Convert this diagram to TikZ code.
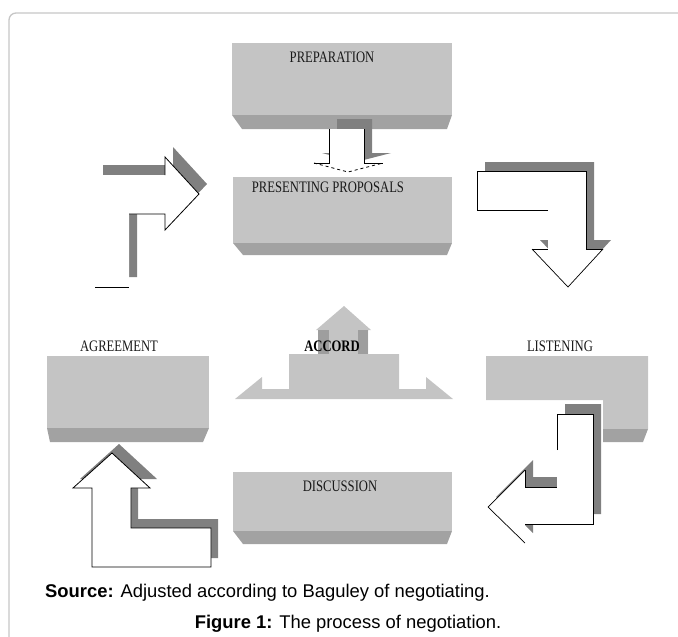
\documentclass[tikz,border=0pt]{standalone}
\usepackage{fontspec}
\setmainfont{Liberation Serif}
\newfontfamily\capfont{Liberation Sans}
\newfontfamily\boxfont[FakeStretch=0.79]{Liberation Serif}
\definecolor{boxlight}{HTML}{C4C4C4}
\definecolor{boxdark}{HTML}{A2A2A2}
\definecolor{shadowgray}{HTML}{808080}
\definecolor{framegray}{HTML}{C6C6C6}
\definecolor{patchgray}{HTML}{9E9E9E}
\tikzset{
  lbl/.style={inner sep=0pt, text=black!90, font=\boxfont\fontsize{16}{18}\selectfont},
  captext/.style={inner sep=0pt, font=\capfont\fontsize{18.4}{21}\selectfont},
  outl/.style={draw=black, line width=0.8pt, line join=miter},
  shad/.style={fill=shadowgray},
}
\begin{document}
\begin{tikzpicture}[x=1pt,y=-1pt]
\useasboundingbox (0,0) rectangle (678,637);
% frame
\draw[framegray, line width=1.3pt, rounded corners=7pt] (9,640) -- (9,13) -- (680,13);

% PREPARATION box
\fill[boxlight] (232,43) rectangle (452,115);
\fill[boxdark] (232,115) -- (452,115) -- (447,129) -- (242,129) -- cycle;
\node[lbl] (prep) at (332,57) {PREPARATION};

% down arrow between preparation and proposals
\fill[shad] (337,119) -- (372,119) -- (372,153) -- (391,153) -- (356,162) -- (322,153) -- (337,153) -- cycle;
\fill[white] (329,129) -- (364,129) -- (364,163) -- (383,163) -- (348,172) -- (314,163) -- (329,163) -- cycle;
\draw[outl] (329,129) -- (329,163) -- (314,163);
\draw[outl] (364,129) -- (364,163) -- (383,163);
\draw[black, line width=0.8pt, dashed] (314,163) -- (348,172) -- (383,163);

% PRESENTING PROPOSALS box
\fill[boxlight] (233,177) rectangle (452,243);
\fill[boxdark] (233,243) -- (452,243) -- (447,255) -- (243,255) -- cycle;
\node[lbl] (prop) at (328,187) {PRESENTING PROPOSALS};

% upper-left arrow
\fill[shad] (103,277) -- (103,165) -- (173,165) -- (173,147) -- (207,184) -- (173,220) -- (173,204) -- (137,204) -- (137,277) -- cycle;
\fill[white] (95,287) -- (95,175) -- (165,175) -- (165,157) -- (199,194) -- (165,230) -- (165,214) -- (129,214) -- (129,287) -- cycle;
\draw[outl] (95,287) -- (129,287);
\draw[outl] (129,214) -- (165,214) -- (165,230) -- (199,194) -- (165,157) -- (165,175);

% upper-right arrow
\fill[shad] (485,201) -- (485,162) -- (594,162) -- (594,240) -- (611,240) -- (576,278) -- (540,240) -- (556,240) -- (556,201) -- cycle;
\fill[white] (477,210) -- (477,171) -- (586,171) -- (586,249) -- (603,249) -- (568,287) -- (532,249) -- (548,249) -- (548,210) -- cycle;
\draw[outl] (548,210) -- (477,210) -- (477,171) -- (586,171) -- (586,249) -- (603,249);
\draw[black, line width=0.7pt] (603,249) -- (568,287) -- (532,249);
\draw[outl] (532,249) -- (548,249);

% ACCORD shape
\fill[boxlight] (235,399) -- (262,377) -- (262,389) -- (289,389) -- (289,354) -- (318,354) -- (318,330) -- (316,330) -- (344,306) -- (371,330) -- (368,330) -- (368,354) -- (399,354) -- (399,389) -- (426,389) -- (426,377) -- (453,399) -- cycle;
\fill[patchgray] (318,330) rectangle (329,354);
\fill[patchgray] (358,330) rectangle (368,354);
\node[inner sep=0pt, font=\boxfont\fontsize{16}{18}\selectfont\bfseries] (accord) at (332,346) {ACCORD};

% AGREEMENT box
\fill[boxlight] (47,356) rectangle (209,428);
\fill[boxdark] (47,428) -- (209,428) -- (203,442) -- (50,442) -- cycle;
\node[lbl] (agree) at (119,346) {AGREEMENT};

% LISTENING box
\fill[boxlight] (486,356) -- (648,356) -- (648,429) -- (603,429) -- (603,400) -- (486,400) -- cycle;
\fill[boxdark] (603,429) -- (648,429) -- (643,442) -- (603,442) -- cycle;
\node[lbl] (listen) at (560,346) {LISTENING};

% lower-right arrow
\fill[shad] (565,404) -- (601,404) -- (601,514) -- (533,514) -- (533,533) -- (496,497) -- (533,460) -- (533,477) -- (565,477) -- cycle;
\fill[white] (557,414) -- (593,414) -- (593,524) -- (525,524) -- (525,543) -- (488,507) -- (525,470) -- (525,487) -- (557,487) -- cycle;
\draw[outl] (557,450) -- (557,414) -- (593,414) -- (593,524) -- (525,524);
\draw[black, line width=0.7pt] (525,543) -- (488,507) -- (525,470);
\draw[outl] (525,470) -- (525,487) -- (557,487);

% DISCUSSION box
\fill[boxlight] (233,472) rectangle (452,531);
\fill[boxdark] (233,531) -- (452,531) -- (447,544) -- (243,544) -- cycle;
\node[lbl] (disc) at (340,486) {DISCUSSION};

% lower-left arrow
\fill[shad] (99,558) -- (99,479) -- (80,479) -- (119,444) -- (157,479) -- (138,479) -- (138,519) -- (218,519) -- (218,558) -- cycle;
\fill[white] (92,567) -- (92,488) -- (73,488) -- (112,453) -- (150,488) -- (131,488) -- (131,528) -- (211,528) -- (211,567) -- cycle;
\draw[outl] (92,567) -- (92,488) -- (73,488) -- (112,453) -- (150,488) -- (131,488) -- (131,528) -- (211,528) -- (211,567) -- cycle;

% captions
\node[captext, anchor=base west] (src) at (45,597) {\textbf{Source:} Adjusted according to Baguley of negotiating.};
\node[captext, anchor=base] (fig) at (348,628) {\textbf{Figure 1:} The process of negotiation.};
\end{tikzpicture}
\end{document}
